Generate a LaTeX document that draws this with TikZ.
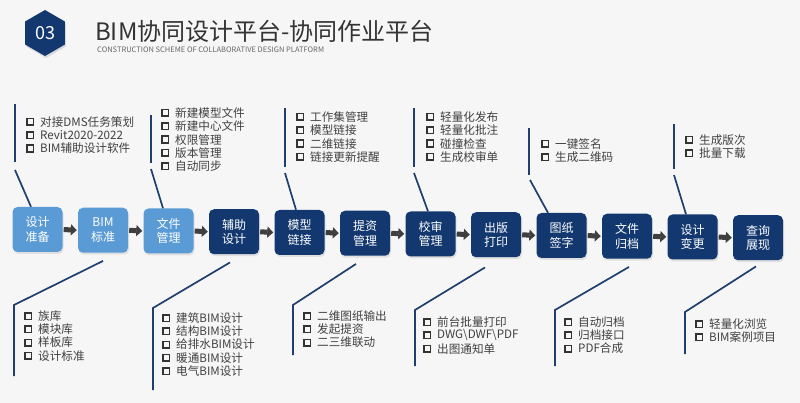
\documentclass[tikz,border=0pt]{standalone}
\usepackage{fontspec}
\setmainfont{Noto Sans CJK SC}
\usetikzlibrary{shapes.geometric,shadows,arrows.meta}
\definecolor{bg}{HTML}{F6F6F7}
\definecolor{lightb}{HTML}{5B9BD5}
\definecolor{darkb}{HTML}{12386F}
\definecolor{linec}{HTML}{1F3F6E}
\definecolor{txt}{HTML}{404040}
\definecolor{arr}{HTML}{3F3F3F}
\begin{document}
\begin{tikzpicture}[x=1pt,y=-1pt,
  box/.style={rounded corners=5pt,minimum width=50pt,minimum height=45pt,text=white,align=center,
    font=\fontsize{12}{14.5}\selectfont,drop shadow={opacity=0.18,shadow xshift=1pt,shadow yshift=-2pt}},
  lb/.style={box,fill=lightb},
  db/.style={box,fill=darkb},
  cl/.style={draw=linec,line width=1.7pt},
  itm/.style={anchor=west,inner sep=0pt,text=txt,font=\fontsize{11.6}{13}\selectfont},
  sq/.style={draw=black!80,line width=1.6pt},
  ar/.style={-{Triangle[length=6pt,width=11pt]},line width=5pt,draw=arr,shorten <=1pt,shorten >=1pt}]
\useasboundingbox (0,0) rectangle (800,403);
\fill[bg] (0,0) rectangle (800,403);
% header
\node[regular polygon,regular polygon sides=6,shape border rotate=30,fill=darkb,minimum size=46pt,inner sep=0pt,
  drop shadow={opacity=0.25,shadow xshift=1pt,shadow yshift=-2pt},text=white,
  font=\fontsize{18}{20}\selectfont] (hex) at (45,33) {03};
\node[anchor=west,inner sep=0pt,text=black!80,font=\fontsize{24}{26}\selectfont] (title) at (95,31) {BIM协同设计平台-协同作业平台};
\node[anchor=west,inner sep=0pt,text=black!60,font=\fontsize{7.5}{8}\selectfont] (sub) at (97,50) {CONSTRUCTION SCHEME OF COLLABORATIVE DESIGN PLATFORM};
% boxes
\foreach \t [count=\i] in {设计\\准备,BIM\\标准,文件\\管理,辅助\\设计,模型\\链接,提资\\管理,校审\\管理,出版\\打印,图纸\\签字,文件\\归档,设计\\变更,查询\\展现}{
  \pgfmathsetmacro{\cx}{37.5+65.5*(\i-1)}
  \pgfmathsetmacro{\cy}{229.5+0.75*(\i-1)}
  \ifnum\i<4
    \node[lb] (b\i) at (\cx,\cy) {\t};
  \else
    \node[db] (b\i) at (\cx,\cy) {\t};
  \fi
}
\foreach \i [evaluate=\i as \j using int(\i+1)] in {1,...,11}{
  \draw[ar] (b\i.east) -- (b\j.west);
}
% item list macro
\newcommand\itemlist[4]{% prefix, x, y0, items
  \foreach \t [count=\k] in {#4}{
    \pgfmathsetmacro{\yy}{#3+13.3*(\k-1)}
    \draw[sq] (#2-3.3,\yy-3.3) rectangle (#2+3.3,\yy+3.3);
    \node[itm] (#1\k) at (#2+10,\yy) {\t};
  }}
% top callouts
\coordinate (t1a) at (15,104); \coordinate (t1b) at (15,162); \coordinate (t1c) at (15,170);
\draw[cl] (t1a) -- (t1b); \draw[cl] (t1c) -- (b1.north -| 31,0);
\itemlist{ta}{30}{122}{对接DMS任务策划,Revit2020-2022,BIM辅助设计软件}
\coordinate (t2a) at (151,115); \coordinate (t2b) at (151,163); \coordinate (t2c) at (151,169);
\draw[cl] (t2a) -- (t2b); \draw[cl] (t2c) -- (b3.north -| 163,0);
\itemlist{tb}{165}{113}{新建模型文件,新建中心文件,权限管理,版本管理,自动同步}
\coordinate (t3a) at (285,108); \coordinate (t3b) at (285,167); \coordinate (t3c) at (285,173);
\draw[cl] (t3a) -- (t3b); \draw[cl] (t3c) -- (b5.north -| 296,0);
\itemlist{tc}{300}{117}{工作集管理,模型链接,二维链接,链接更新提醒}
\coordinate (t4a) at (414,108); \coordinate (t4b) at (414,167); \coordinate (t4c) at (414,173);
\draw[cl] (t4a) -- (t4b); \draw[cl] (t4c) -- (b7.north -| 428,0);
\itemlist{td}{430}{117}{轻量化发布,轻量化批注,碰撞检查,生成校审单}
\coordinate (t5a) at (529,128); \coordinate (t5b) at (529,175); \coordinate (t5c) at (530,180);
\draw[cl] (t5a) -- (t5b); \draw[cl] (t5c) -- (b9.north -| 548,0);
\itemlist{te}{545}{144}{一键签名,生成二维码}
\coordinate (t6a) at (674,124); \coordinate (t6b) at (674,169); \coordinate (t6c) at (674,175);
\draw[cl] (t6a) -- (t6b); \draw[cl] (t6c) -- (b11.north -| 686,0);
\itemlist{tf}{689}{140}{生成版次,批量下载}
% bottom callouts
\coordinate (u1a) at (14,305); \coordinate (u1b) at (14,376);
\draw[cl] (b2.south) ++(0,8) coordinate (u1c) -- (u1a) -- (u1b);
\itemlist{ba}{28}{316}{族库,模块库,样板库,设计标准}
\coordinate (u2a) at (153,308); \coordinate (u2b) at (153,390);
\draw[cl] (b4.south) ++(-4,8) coordinate (u2c) -- (u2a) -- (u2b);
\itemlist{bb}{166}{318}{建筑BIM设计,结构BIM设计,给排水BIM设计,暖通BIM设计,电气BIM设计}
\coordinate (u3a) at (293,305); \coordinate (u3b) at (293,355);
\draw[cl] (b6.south) ++(-9,8) coordinate (u3c) -- (u3a) -- (u3b);
\itemlist{bc}{307}{316}{二维图纸输出,发起提资,二三维联动}
\coordinate (u4a) at (415,310); \coordinate (u4b) at (415,366);
\draw[cl] (b8.south) ++(-11,10) coordinate (u4c) -- (u4a) -- (u4b);
\itemlist{bd}{427}{322}{前台批量打印,DWG\textbackslash DWF\textbackslash PDF,出图通知单}
\coordinate (u5a) at (555,310); \coordinate (u5b) at (555,366);
\draw[cl] (b10.south) ++(2,8) coordinate (u5c) -- (u5a) -- (u5b);
\itemlist{be}{568}{322}{自动归档,归档接口,PDF合成}
\coordinate (u6a) at (685,312); \coordinate (u6b) at (685,354);
\draw[cl] (b12.south) ++(-2,6) coordinate (u6c) -- (u6a) -- (u6b);
\itemlist{bf}{699}{324}{轻量化浏览,BIM案例项目}
\end{tikzpicture}
\end{document}
